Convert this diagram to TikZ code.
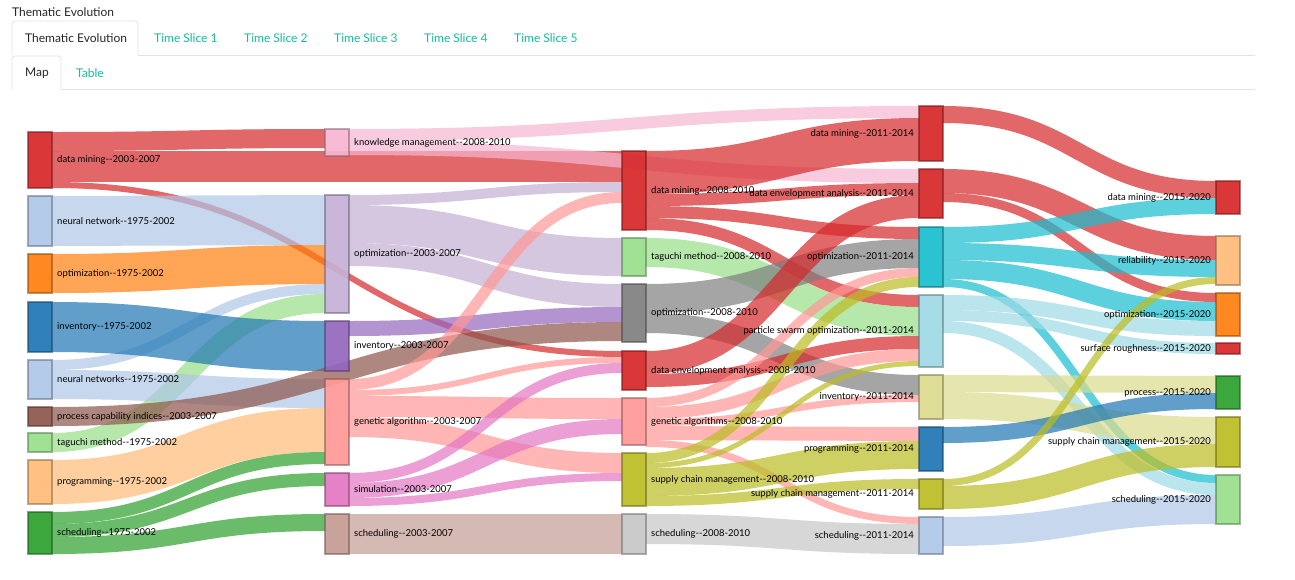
\documentclass[tikz,border=0pt]{standalone}
\usepackage{fontspec}
\setmainfont{Lato}
\usepackage{tikz}
\usetikzlibrary{positioning, calc, backgrounds}

\definecolor{cRed}{HTML}{D62728}
\definecolor{cLBlue}{HTML}{AEC7E8}
\definecolor{cOrange}{HTML}{FF7F0E}
\definecolor{cBlue}{HTML}{1F77B4}
\definecolor{cBrown}{HTML}{8C564B}
\definecolor{cLGreen}{HTML}{98DF8A}
\definecolor{cLOrange}{HTML}{FFBB78}
\definecolor{cGreen}{HTML}{2CA02C}
\definecolor{cPink}{HTML}{F7B6D2}
\definecolor{cLPurple}{HTML}{C5B0D5}
\definecolor{cPurple}{HTML}{9467BD}
\definecolor{cSalmon}{HTML}{FF9896}
\definecolor{cMagenta}{HTML}{E377C2}
\definecolor{cLBrown}{HTML}{C49C94}
\definecolor{cGrey}{HTML}{7F7F7F}
\definecolor{cLGrey}{HTML}{C7C7C7}
\definecolor{cOlive}{HTML}{BCBD22}
\definecolor{cCyan}{HTML}{17BECF}
\definecolor{cLCyan}{HTML}{9EDAE5}
\definecolor{cKhaki}{HTML}{DBDB8D}
\definecolor{tabTeal}{HTML}{18BC9C}
\definecolor{tabGrey}{HTML}{E3E3E3}

% band from node #1 (offset #2 below its top) to node #3 (offset #4), width #5
\newcommand{\flow}[6]{%
  \begin{scope}[on background layer]
  \draw[band, draw=#6, line width=#5pt]
    let \p1=($(#1.north east)+(0,#2+#5/2)$), \p2=($(#3.north west)+(0,#4+#5/2)$) in
    (\p1) .. controls ({(\x1+\x2)/2},\y1) and ({(\x1+\x2)/2},\y2) .. (\p2);
  \end{scope}}

\begin{document}
\begin{tikzpicture}[
    x={(1pt,0pt)}, y={(0pt,-1pt)},
    box/.style={fill=#1, draw=#1!55!black, draw opacity=0.55, fill opacity=0.92, line width=1.2pt,
      minimum width=24pt, inner sep=0pt, outer sep=0pt, anchor=north west},
    lbl/.style={font=\fontsize{9.5}{11}\selectfont, inner sep=0pt, text=black},
    band/.style={draw opacity=0.7},
    tabtxt/.style={font=\fontsize{12}{14}\selectfont, inner sep=0pt, anchor=west, text=tabTeal},
    tabedge/.style={draw=tabGrey, line width=0.8pt, rounded corners=3pt}
]
\useasboundingbox (0,0) rectangle (1295,579);
\begin{scope}[on background layer]
  \fill[white] (0,0) rectangle (1295,579);
\end{scope}

% header and tabs
\node[tabtxt, text=black!85, anchor=west] (title) at (12,12) {Thematic Evolution};
\draw[tabedge] (12,55) -- (12,21) -- (138,21) -- (138,55);
\draw[tabedge] (138,55) -- (1255,55);
\node[tabtxt, text=black!85] (tab0) at (25,38) {Thematic Evolution};
\node[tabtxt] (tab1) at (154,38) {Time Slice 1};
\node[tabtxt] (tab2) at (244,38) {Time Slice 2};
\node[tabtxt] (tab3) at (334,38) {Time Slice 3};
\node[tabtxt] (tab4) at (424,38) {Time Slice 4};
\node[tabtxt] (tab5) at (514,38) {Time Slice 5};
\draw[tabedge] (12,89) -- (12,56) -- (61,56) -- (61,89);
\draw[tabedge] (61,89) -- (1255,89);
\node[tabtxt, text=black!85] (tabMap) at (25,73) {Map};
\node[tabtxt] (tabTable) at (76,73) {Table};

% 1975-2002 / 2003-2007
\node[box=cRed, minimum height=56pt] (dm03) at (28,132) {};
\node[box=cLBlue, minimum height=50pt] (nn75) at (28,196) {};
\node[box=cOrange, minimum height=39pt] (opt75) at (28,254) {};
\node[box=cBlue, minimum height=50pt] (inv75) at (28,302) {};
\node[box=cLBlue, minimum height=39pt] (nns75) at (28,360) {};
\node[box=cBrown, minimum height=19pt] (pci03) at (28,407) {};
\node[box=cLGreen, minimum height=19pt] (tag75) at (28,433) {};
\node[box=cLOrange, minimum height=44pt] (prog75) at (28,460) {};
\node[box=cGreen, minimum height=42pt] (sch75) at (28,512) {};

\node[box=cPink, minimum height=27pt] (km08) at (325,129) {};
\node[box=cLPurple, minimum height=118pt] (opt03) at (325,195) {};
\node[box=cPurple, minimum height=50pt] (inv03) at (325,321) {};
\node[box=cSalmon, minimum height=86pt] (ga03) at (325,379) {};
\node[box=cMagenta, minimum height=33pt] (sim03) at (325,473) {};
\node[box=cLBrown, minimum height=40pt] (sch03) at (325,514) {};

% 2008-2010
\node[box=cRed, minimum height=79pt] (dm08) at (622,151) {};
\node[box=cLGreen, minimum height=38pt] (tag08) at (622,238) {};
\node[box=cGrey, minimum height=58pt] (opt08) at (622,284) {};
\node[box=cRed, minimum height=39pt] (dea08) at (622,351) {};
\node[box=cSalmon, minimum height=47pt] (ga08) at (622,398) {};
\node[box=cOlive, minimum height=53pt] (scm08) at (622,453) {};
\node[box=cLGrey, minimum height=40pt] (sch08) at (622,514) {};

% 2011-2014
\node[box=cRed, minimum height=55pt] (dm11) at (919,106) {};
\node[box=cRed, minimum height=49pt] (dea11) at (919,169) {};
\node[box=cCyan, minimum height=60pt] (opt11) at (919,227) {};
\node[box=cLCyan, minimum height=72pt] (pso11) at (919,295) {};
\node[box=cKhaki, minimum height=44pt] (inv11) at (919,375) {};
\node[box=cBlue, minimum height=44pt] (prog11) at (919,427) {};
\node[box=cOlive, minimum height=30pt] (scm11) at (919,479) {};
\node[box=cLBlue, minimum height=37pt] (sch11) at (919,517) {};

% 2015-2020
\node[box=cRed, minimum height=33pt] (dm15) at (1216,181) {};
\node[box=cLOrange, minimum height=49pt] (rel15) at (1216,236) {};
\node[box=cOrange, minimum height=43pt] (opt15) at (1216,293) {};
\node[box=cRed, minimum height=11pt] (sr15) at (1216,343) {};
\node[box=cGreen, minimum height=33pt] (proc15) at (1216,376) {};
\node[box=cOlive, minimum height=50pt] (scm15) at (1216,417) {};
\node[box=cLGreen, minimum height=49pt] (sch15) at (1216,475) {};

% labels
\node[lbl, right=5pt of dm03] (dm03-t) {data mining-{}-2003-2007};
\node[lbl, right=5pt of nn75] (nn75-t) {neural network-{}-1975-2002};
\node[lbl, right=5pt of opt75] (opt75-t) {optimization-{}-1975-2002};
\node[lbl, right=5pt of inv75] (inv75-t) {inventory-{}-1975-2002};
\node[lbl, right=5pt of nns75] (nns75-t) {neural networks-{}-1975-2002};
\node[lbl, right=5pt of pci03] (pci03-t) {process capability indices-{}-2003-2007};
\node[lbl, right=5pt of tag75] (tag75-t) {taguchi method-{}-1975-2002};
\node[lbl, right=5pt of prog75] (prog75-t) {programming-{}-1975-2002};
\node[lbl, right=5pt of sch75] (sch75-t) {scheduling-{}-1975-2002};
\node[lbl, right=5pt of km08] (km08-t) {knowledge management-{}-2008-2010};
\node[lbl, right=5pt of opt03] (opt03-t) {optimization-{}-2003-2007};
\node[lbl, right=5pt of inv03] (inv03-t) {inventory-{}-2003-2007};
\node[lbl, right=5pt of ga03] (ga03-t) {genetic algorithm-{}-2003-2007};
\node[lbl, right=5pt of sim03] (sim03-t) {simulation-{}-2003-2007};
\node[lbl, right=5pt of sch03] (sch03-t) {scheduling-{}-2003-2007};
\node[lbl, right=5pt of dm08] (dm08-t) {data mining-{}-2008-2010};
\node[lbl, right=5pt of tag08] (tag08-t) {taguchi method-{}-2008-2010};
\node[lbl, right=5pt of opt08] (opt08-t) {optimization-{}-2008-2010};
\node[lbl, right=5pt of dea08] (dea08-t) {data envelopment analysis-{}-2008-2010};
\node[lbl, right=5pt of ga08] (ga08-t) {genetic algorithms-{}-2008-2010};
\node[lbl, right=5pt of scm08] (scm08-t) {supply chain management-{}-2008-2010};
\node[lbl, right=5pt of sch08] (sch08-t) {scheduling-{}-2008-2010};
\node[lbl, left=5pt of dm11] (dm11-t) {data mining-{}-2011-2014};
\node[lbl, left=5pt of dea11] (dea11-t) {data envelopment analysis-{}-2011-2014};
\node[lbl, left=5pt of opt11] (opt11-t) {optimization-{}-2011-2014};
\node[lbl, left=5pt of pso11] (pso11-t) {particle swarm optimization-{}-2011-2014};
\node[lbl, left=5pt of inv11] (inv11-t) {inventory-{}-2011-2014};
\node[lbl, left=5pt of prog11] (prog11-t) {programming-{}-2011-2014};
\node[lbl, left=5pt of scm11] (scm11-t) {supply chain management-{}-2011-2014};
\node[lbl, left=5pt of sch11] (sch11-t) {scheduling-{}-2011-2014};
\node[lbl, left=5pt of dm15] (dm15-t) {data mining-{}-2015-2020};
\node[lbl, left=5pt of rel15] (rel15-t) {reliability-{}-2015-2020};
\node[lbl, left=5pt of opt15] (opt15-t) {optimization-{}-2015-2020};
\node[lbl, left=5pt of sr15] (sr15-t) {surface roughness-{}-2015-2020};
\node[lbl, left=5pt of proc15] (proc15-t) {process-{}-2015-2020};
\node[lbl, left=5pt of scm15] (scm15-t) {supply chain management-{}-2015-2020};
\node[lbl, left=5pt of sch15] (sch15-t) {scheduling-{}-2015-2020};

% flows out of the first column
\flow{dm03}{0}{km08}{0}{19}{cRed}
\flow{dm03}{19}{dm08}{0}{31}{cRed}
\flow{dm03}{50}{dea08}{0}{6}{cRed}
\flow{nn75}{0}{opt03}{0}{50}{cLBlue}
\flow{opt75}{0}{opt03}{50}{39}{cOrange}
\flow{nns75}{0}{opt03}{89}{10}{cLBlue}
\flow{tag75}{0}{opt03}{99}{19}{cLGreen}
\flow{inv75}{0}{inv03}{0}{50}{cBlue}
\flow{nns75}{10}{ga03}{0}{29}{cLBlue}
\flow{pci03}{0}{opt08}{38}{19}{cBrown}
\flow{prog75}{0}{ga03}{29}{44}{cLOrange}
\flow{sch75}{0}{ga03}{73}{12}{cGreen}
\flow{sch75}{12}{sim03}{0}{13}{cGreen}
\flow{sch75}{25}{sch03}{0}{17}{cGreen}

% second column
\flow{km08}{0}{dm11}{0}{12}{cPink}
\flow{km08}{12}{dea11}{0}{14}{cPink}
\flow{opt03}{0}{dm08}{31}{10}{cLPurple}
\flow{opt03}{10}{tag08}{0}{38}{cLPurple}
\flow{opt03}{48}{opt08}{0}{23}{cLPurple}
\flow{inv03}{0}{opt08}{23}{15}{cPurple}
\flow{ga03}{0}{dm08}{41}{11}{cSalmon}
\flow{ga03}{11}{dea08}{6}{6}{cSalmon}
\flow{ga03}{17}{ga08}{0}{21}{cSalmon}
\flow{ga03}{38}{scm08}{0}{20}{cSalmon}
\flow{sim03}{0}{dea08}{12}{10}{cMagenta}
\flow{sim03}{10}{ga08}{21}{15}{cMagenta}
\flow{sim03}{25}{scm08}{20}{8}{cMagenta}
\flow{sch03}{0}{sch08}{0}{40}{cLBrown}

% third column
\flow{dm08}{0}{dm11}{12}{43}{cRed}
\flow{dm08}{43}{dea11}{14}{12}{cRed}
\flow{dm08}{55}{opt11}{0}{12}{cRed}
\flow{dm08}{67}{pso11}{0}{12}{cRed}
\flow{tag08}{0}{pso11}{12}{29}{cLGreen}
\flow{opt08}{0}{opt11}{12}{29}{cGrey}
\flow{opt08}{29}{inv11}{0}{20}{cGrey}
\flow{dea08}{0}{dea11}{26}{23}{cRed}
\flow{dea08}{23}{pso11}{41}{13}{cRed}
\flow{ga08}{0}{opt11}{41}{9}{cSalmon}
\flow{ga08}{9}{pso11}{54}{12}{cSalmon}
\flow{ga08}{21}{inv11}{20}{7}{cSalmon}
\flow{ga08}{28}{prog11}{0}{14}{cSalmon}
\flow{ga08}{42}{sch11}{0}{7}{cSalmon}
\flow{scm08}{0}{opt11}{50}{10}{cOlive}
\flow{scm08}{10}{pso11}{66}{5}{cOlive}
\flow{scm08}{15}{prog11}{14}{28}{cOlive}
\flow{scm08}{43}{scm11}{0}{10}{cOlive}
\flow{sch08}{0}{sch11}{7}{30}{cLGrey}

% fourth column
\flow{dm11}{0}{dm15}{0}{17}{cRed}
\flow{dea11}{0}{rel15}{0}{24}{cRed}
\flow{dea11}{24}{opt15}{0}{9}{cRed}
\flow{opt11}{0}{dm15}{17}{16}{cCyan}
\flow{opt11}{16}{rel15}{24}{17}{cCyan}
\flow{opt11}{33}{opt15}{9}{19}{cCyan}
\flow{opt11}{52}{sch15}{0}{8}{cCyan}
\flow{pso11}{0}{opt15}{28}{15}{cLCyan}
\flow{pso11}{15}{sr15}{0}{11}{cLCyan}
\flow{pso11}{26}{sch15}{8}{12}{cLCyan}
\flow{inv11}{0}{proc15}{0}{17}{cKhaki}
\flow{inv11}{17}{scm15}{0}{27}{cKhaki}
\flow{prog11}{0}{proc15}{17}{16}{cBlue}
\flow{scm11}{0}{rel15}{41}{7}{cOlive}
\flow{scm11}{7}{scm15}{27}{23}{cOlive}
\flow{sch11}{0}{sch15}{20}{29}{cLBlue}

\end{tikzpicture}
\end{document}
